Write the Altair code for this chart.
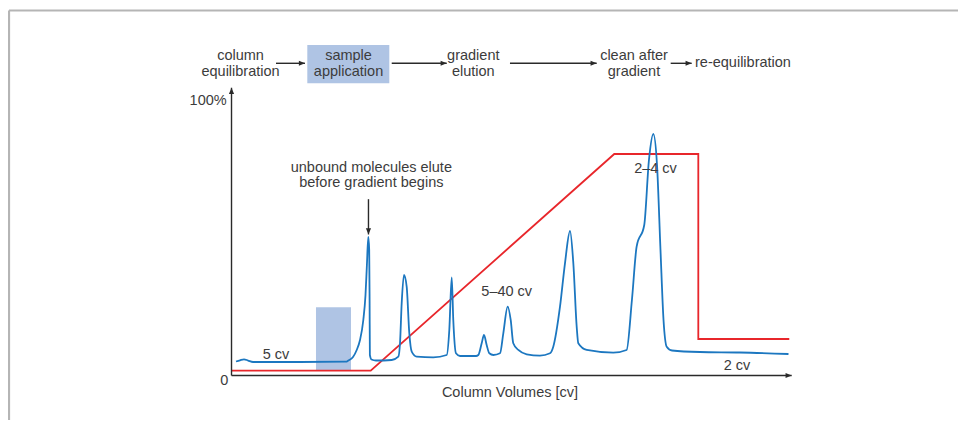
import altair as alt
import pandas as pd

# ---------------- data (x: column-volume axis units 0..100, y: percent) ----------------
blue_x = [0.80, 1.52, 2.23, 2.95, 3.84, 12.23, 20.44, 20.85, 21.69, 22.35, 22.94, 23.53, 23.92, 24.17,
          24.42, 24.58, 24.65, 24.70, 24.99, 25.79, 28.6, 29.78, 30.08, 30.38, 30.79, 31.27, 31.74,
          32.17, 33.06, 36.02, 38.42, 38.88, 39.31, 39.59, 40.07, 40.79, 43.65, 44.06, 44.66, 45.07,
          45.55, 46.02, 46.74, 47.93, 48.52, 49.30, 49.84, 50.30, 51.20, 52.70, 55.07, 56.86, 57.44,
          58.64, 59.53, 60.43, 61.02, 61.62, 61.91, 63.41, 68.15, 70.53, 71.48, 72.32, 73.68, 74.52,
          75.30, 75.96, 76.58, 77.12, 77.69, 78.63, 83.63, 90.77, 99.43]
blue_y = [5.08, 5.52, 5.88, 5.44, 4.90, 4.90, 5.01, 5.44, 6.72, 9.26, 12.89, 20.15, 29.22, 40.11,
          50.27, 45.55, 27.40, 7.44, 5.81, 5.44, 5.63, 6.82, 11.69, 26.21, 36.48, 32.23, 15.32,
          8.64, 6.82, 6.61, 7.44, 16.52, 35.64, 20.15, 8.06, 7.08, 7.08, 7.44, 11.69, 14.70,
          11.07, 8.06, 7.44, 8.06, 15.32, 24.97, 20.15, 11.69, 9.26, 7.70, 7.19, 8.06, 10.45,
          24.97, 40.73, 52.45, 40.73, 17.71, 11.69, 9.26, 8.28, 9.26, 27.40, 46.75, 54.63, 78.22,
          87.66, 76.41, 45.55, 20.15, 10.45, 9.07, 8.53, 8.35, 7.80]

red_x = [0, 24.85, 68.33, 83.33, 83.33, 99.57]
red_y = [1.74, 1.74, 80.40, 80.40, 13.25, 13.25]

# sample-application bands (plot band and flow box)
band_x1 = [15.08, 13.53]
band_x2 = [21.33, 28.17]
band_y1 = [1.74, 106.06]
band_y2 = [24.75, 119.96]

# flow labels (two-line items) and other centred labels
center_text = ["column", "equilibration", "sample", "application", "gradient", "elution",
               "clean after", "gradient", "unbound molecules elute", "before gradient begins",
               "5 cv", "5\u201340 cv", "2\u20134 cv", "2 cv", "Column Volumes [cv]"]
center_x = [1.61, 1.61, 20.89, 20.89, 43.16, 43.16, 71.85, 71.85, 24.96, 24.96,
            7.94, 49.13, 75.69, 90.24, 49.71]
center_y = [115.97, 110.05, 115.97, 110.05, 115.97, 110.05, 115.97, 110.05, 75.21, 69.76,
            7.44, 30.42, 74.85, 3.56, -6.24]

left_text = ["re-equilibration"]
left_x = [82.74]
left_y = [113.54]

right_text = ["100%", "0"]
right_x = [-0.86, -0.57]
right_y = [99.6, -2.0]

# arrows: horizontal flow arrows + x axis (pointing right)
harrow_x1 = [7.94, 28.60, 49.71, 78.40, 0.0]
harrow_x2 = [13.12, 38.42, 65.19, 82.15, 100.0]
harrow_y = [113.32, 113.32, 113.32, 113.32, 0.0]
# y axis (pointing up)
yaxis_x = [0.0]
yaxis_y1 = [0.0]
yaxis_y2 = [104.4]
# annotation arrow (pointing down)
ann_x = [24.45]
ann_y1 = [64.0]
ann_y2 = [51.2]

# gray frame
frame_x1 = [-39.72, -39.72]
frame_x2 = [129.69, -39.72]
frame_y1 = [132.49, 132.49]
frame_y2 = [132.49, -16.15]

# ---------------- chart ----------------
XDOM = [-39.90, 129.69]
YDOM = [-16.15, 133.39]
xs = alt.Scale(domain=XDOM, nice=False, zero=False)
ys = alt.Scale(domain=YDOM, nice=False, zero=False)

FONT = "Liberation Sans"
TXT = "#3c3c3c"
INK = "#2a2a2a"

blue = pd.DataFrame({"x": blue_x, "y": blue_y, "i": range(len(blue_x))})
red = pd.DataFrame({"x": red_x, "y": red_y, "i": range(len(red_x))})
bands = pd.DataFrame({"x1": band_x1, "x2": band_x2, "y1": band_y1, "y2": band_y2})
ctext = pd.DataFrame({"t": center_text, "x": center_x, "y": center_y})
ltext = pd.DataFrame({"t": left_text, "x": left_x, "y": left_y})
rtext = pd.DataFrame({"t": right_text, "x": right_x, "y": right_y})
harr = pd.DataFrame({"x1": harrow_x1, "x2": harrow_x2, "y": harrow_y})
yax = pd.DataFrame({"x": yaxis_x, "y1": yaxis_y1, "y2": yaxis_y2})
ann = pd.DataFrame({"x": ann_x, "y1": ann_y1, "y2": ann_y2})
frame = pd.DataFrame({"x1": frame_x1, "x2": frame_x2, "y1": frame_y1, "y2": frame_y2})

band_layer = alt.Chart(bands).mark_rect(color="#afc4e4").encode(
    x=alt.X("x1:Q", scale=xs, axis=None), x2="x2:Q",
    y=alt.Y("y1:Q", scale=ys, axis=None), y2="y2:Q")

frame_layer = alt.Chart(frame).mark_rule(color="#b5b5b5", strokeWidth=2.2).encode(
    x=alt.X("x1:Q", scale=xs, axis=None), x2="x2:Q",
    y=alt.Y("y1:Q", scale=ys, axis=None), y2="y2:Q")

harr_rule = alt.Chart(harr).mark_rule(color=INK, strokeWidth=1.4).encode(
    x=alt.X("x1:Q", scale=xs, axis=None), x2="x2:Q",
    y=alt.Y("y:Q", scale=ys, axis=None))
harr_head = alt.Chart(harr).mark_point(shape="M0,0L-1,-0.42L-1,0.42Z", filled=True, size=150,
                                       color=INK, opacity=1).encode(
    x=alt.X("x2:Q", scale=xs, axis=None), y=alt.Y("y:Q", scale=ys, axis=None))

yax_rule = alt.Chart(yax).mark_rule(color=INK, strokeWidth=1.4).encode(
    x=alt.X("x:Q", scale=xs, axis=None),
    y=alt.Y("y1:Q", scale=ys, axis=None), y2="y2:Q")
yax_head = alt.Chart(yax).mark_point(shape="M0,0L-0.42,1L0.42,1Z", filled=True, size=150,
                                     color=INK, opacity=1).encode(
    x=alt.X("x:Q", scale=xs, axis=None), y=alt.Y("y2:Q", scale=ys, axis=None))

ann_rule = alt.Chart(ann).mark_rule(color=INK, strokeWidth=1.4).encode(
    x=alt.X("x:Q", scale=xs, axis=None),
    y=alt.Y("y1:Q", scale=ys, axis=None), y2="y2:Q")
ann_head = alt.Chart(ann).mark_point(shape="M0,0L-0.42,-1L0.42,-1Z", filled=True, size=150,
                                     color=INK, opacity=1).encode(
    x=alt.X("x:Q", scale=xs, axis=None), y=alt.Y("y2:Q", scale=ys, axis=None))

red_layer = alt.Chart(red).mark_line(color="#e8262b", strokeWidth=1.8).encode(
    x=alt.X("x:Q", scale=xs, axis=None), y=alt.Y("y:Q", scale=ys, axis=None),
    order="i:Q")

blue_layer = alt.Chart(blue).mark_line(color="#1c77c0", strokeWidth=1.8,
                                       interpolate="monotone").encode(
    x=alt.X("x:Q", scale=xs, axis=None), y=alt.Y("y:Q", scale=ys, axis=None),
    order="i:Q")

ctext_layer = alt.Chart(ctext).mark_text(font=FONT, fontSize=14.5, color=TXT, align="center",
                                         baseline="middle").encode(
    x=alt.X("x:Q", scale=xs, axis=None), y=alt.Y("y:Q", scale=ys, axis=None), text="t:N")
ltext_layer = alt.Chart(ltext).mark_text(font=FONT, fontSize=14.5, color=TXT, align="left",
                                         baseline="middle").encode(
    x=alt.X("x:Q", scale=xs, axis=None), y=alt.Y("y:Q", scale=ys, axis=None), text="t:N")
rtext_layer = alt.Chart(rtext).mark_text(font=FONT, fontSize=14.5, color=TXT, align="right",
                                         baseline="middle").encode(
    x=alt.X("x:Q", scale=xs, axis=None), y=alt.Y("y:Q", scale=ys, axis=None), text="t:N")

chart = alt.layer(
    frame_layer, band_layer, red_layer, blue_layer,
    harr_rule, harr_head, yax_rule, yax_head, ann_rule, ann_head,
    ctext_layer, ltext_layer, rtext_layer,
).properties(
    width=950, height=412, padding=0, autosize=alt.AutoSizeParams(type="none"),
    background="white",
).configure_view(stroke=None)

chart.save("out.html", embed_options={"renderer": "svg", "actions": False})
